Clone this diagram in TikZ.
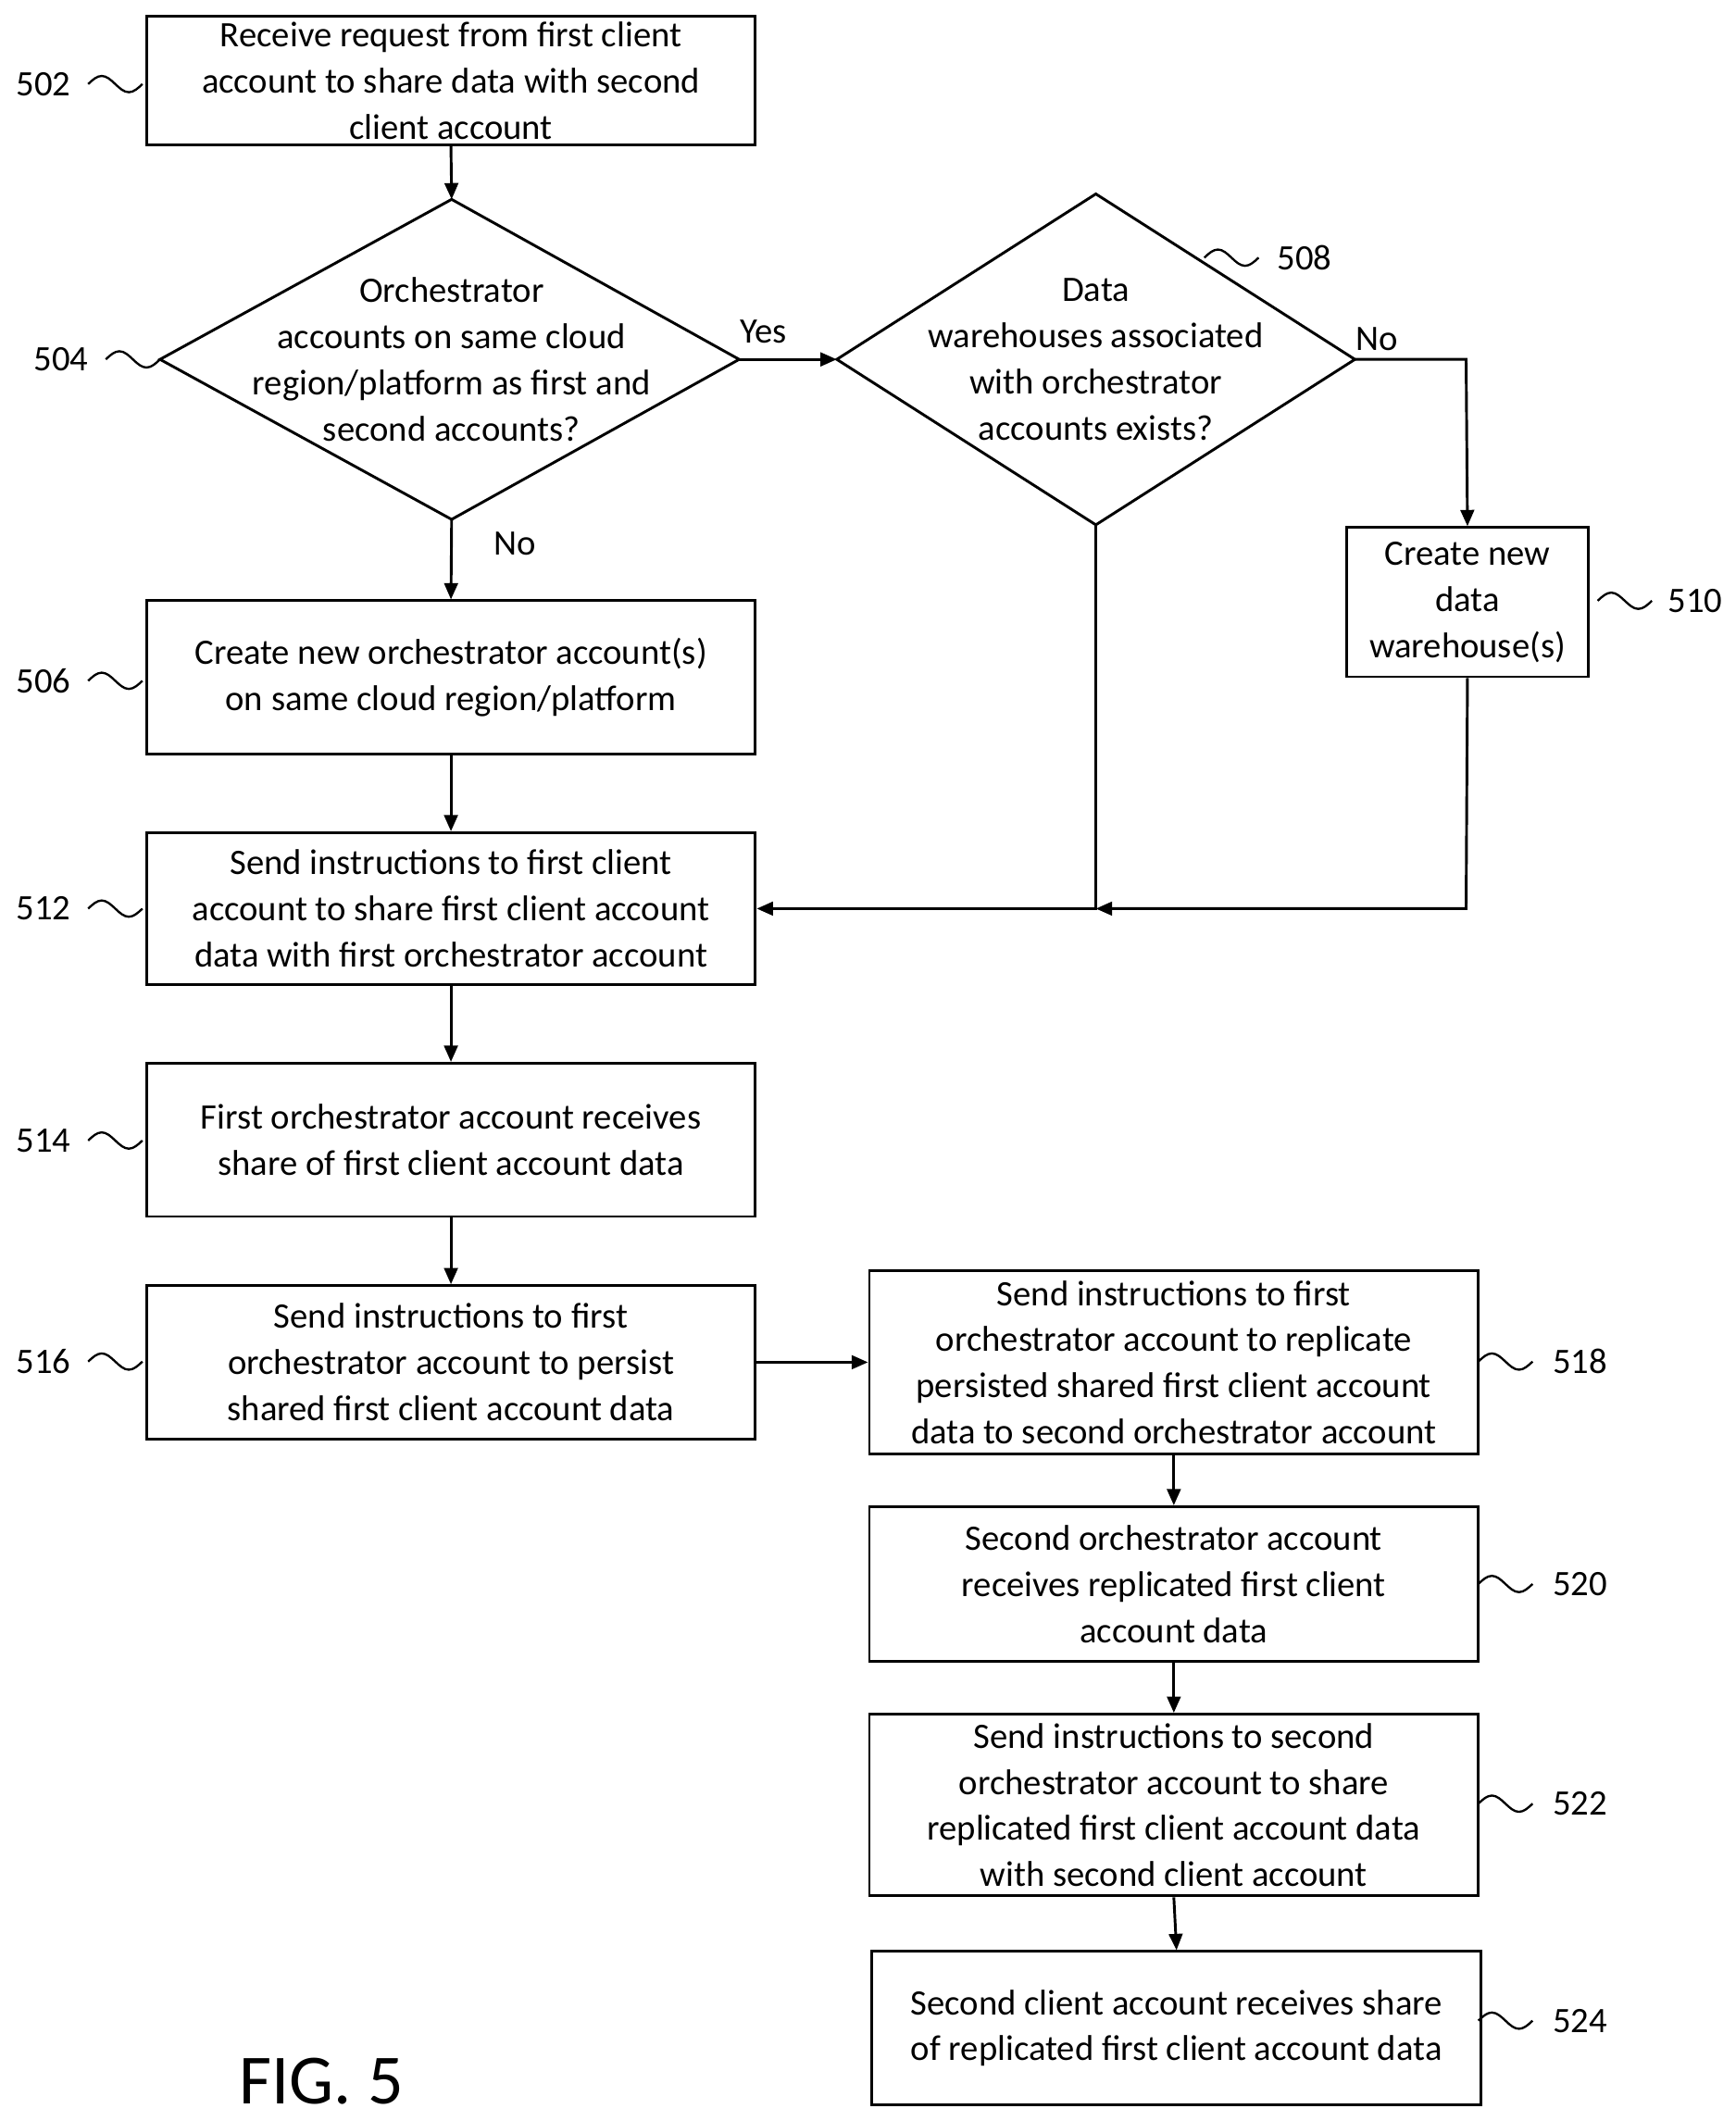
\documentclass[tikz,border=0pt]{standalone}
\usepackage{fontspec}
\setmainfont{Carlito}
\usetikzlibrary{shapes.geometric,arrows.meta}
\begin{document}
\begin{tikzpicture}[x=0.5pt,y=-0.5pt,
  every node/.style={font=\fontsize{13.2}{17}\selectfont},
  box/.style={draw,line width=1pt,align=center,inner sep=0pt},
  arr/.style={-{Triangle[length=6pt,width=5pt]},line width=1pt},
  ln/.style={line width=1pt},
  sq/.style={line width=0.8pt}]
\useasboundingbox (0,0) rectangle (1280,1564);
% boxes
\node[box,minimum width=224.5pt,minimum height=47.5pt] (b502) at (332.5,59.5) {Receive request from first client\\account to share data with second\\client account};
\node[box,minimum width=224.5pt,minimum height=56.5pt] (b506) at (332.5,499.5) {Create new orchestrator account(s)\\on same cloud region/platform};
\node[box,minimum width=89pt,minimum height=55pt] (b510) at (1082,444) {Create new\\data\\warehouse(s)};
\node[box,minimum width=224.5pt,minimum height=56pt] (b512) at (332.5,670) {Send instructions to first client\\account to share first client account\\data with first orchestrator account};
\node[box,minimum width=224.5pt,minimum height=56.5pt] (b514) at (332.5,840.5) {First orchestrator account receives\\share of first client account data};
\node[box,minimum width=224.5pt,minimum height=56.5pt] (b516) at (332.5,1004.5) {Send instructions to first\\orchestrator account to persist\\shared first client account data};
\node[box,minimum width=224.5pt,minimum height=67.5pt] (b518) at (865.5,1004.5) {Send instructions to first\\orchestrator account to replicate\\persisted shared first client account\\data to second orchestrator account};
\node[box,minimum width=224.5pt,minimum height=57pt] (b520) at (865.5,1168) {Second orchestrator account\\receives replicated first client\\account data};
\node[box,minimum width=224.5pt,minimum height=67pt] (b522) at (865.5,1331) {Send instructions to second\\orchestrator account to share\\replicated first client account data\\with second client account};
\node[box,minimum width=224.5pt,minimum height=56.5pt] (b524) at (867.5,1495.5) {Second client account receives share\\of replicated first client account data};
% diamonds
\coordinate (d4t) at (333,147); \coordinate (d4b) at (333,383);
\coordinate (d4l) at (118,265); \coordinate (d4r) at (545,265);
\draw[ln] (d4t)--(d4r)--(d4b)--(d4l)--cycle;
\node[align=center] (t504) at (333,265) {Orchestrator\\accounts on same cloud\\region/platform as first and\\second accounts?};
\coordinate (d8t) at (808,143); \coordinate (d8b) at (808,387);
\coordinate (d8l) at (617,265); \coordinate (d8r) at (999,265);
\draw[ln] (d8t)--(d8r)--(d8b)--(d8l)--cycle;
\node[align=center] (t508) at (808,265) {Data\\warehouses associated\\with orchestrator\\accounts exists?};
% connectors
\draw[arr] (b502.south) -- (d4t);
\draw[arr] (d4r) -- (d8l) node[pos=0.25,above,yshift=2pt] (yes) {Yes};
\draw[arr] (d4b) -- (b506.north) node[pos=0.3,right,xshift=12pt] (no1) {No};
\coordinate (c1) at (1081,265);
\draw[arr] (d8r) -- (c1) -- (b510.north);
\node (no2) at (1015,250) {No};
\coordinate (j1) at (808,670); \coordinate (j2) at (1081,670);
\draw[arr] (d8b) -- (j1) -- (b512.east);
\draw[arr] (b510.south) -- (j2) -- (j1);
\draw[arr] (b506.south) -- (b512.north);
\draw[arr] (b512.south) -- (b514.north);
\draw[arr] (b514.south) -- (b516.north);
\draw[arr] (b516.east) -- (b518.west);
\draw[arr] (b518.south) -- (b520.north);
\draw[arr] (b520.south) -- (b522.north);
\draw[arr] (b522.south) -- (b524.north);
% labels with squiggles
\foreach \n/\x/\y/\lx in {502/65/62/32,504/78/265/45,506/65/502/32,512/65/670/32,514/65/841/32,516/65/1004/32,508/888/190/962,510/1178/443/1250,518/1090/1004/1165,520/1090/1168/1165,522/1090/1330/1165,524/1090/1490/1165}{
  \draw[sq] (\x,\y) sin +(10,-6) cos +(10,6) sin +(10,6) cos +(10,-6);
  \node (l\n) at (\lx,\y) {\n};
}
\node[font=\fontsize{26}{30}\selectfont] (fig) at (237,1535) {FIG. 5};
\end{tikzpicture}
\end{document}
